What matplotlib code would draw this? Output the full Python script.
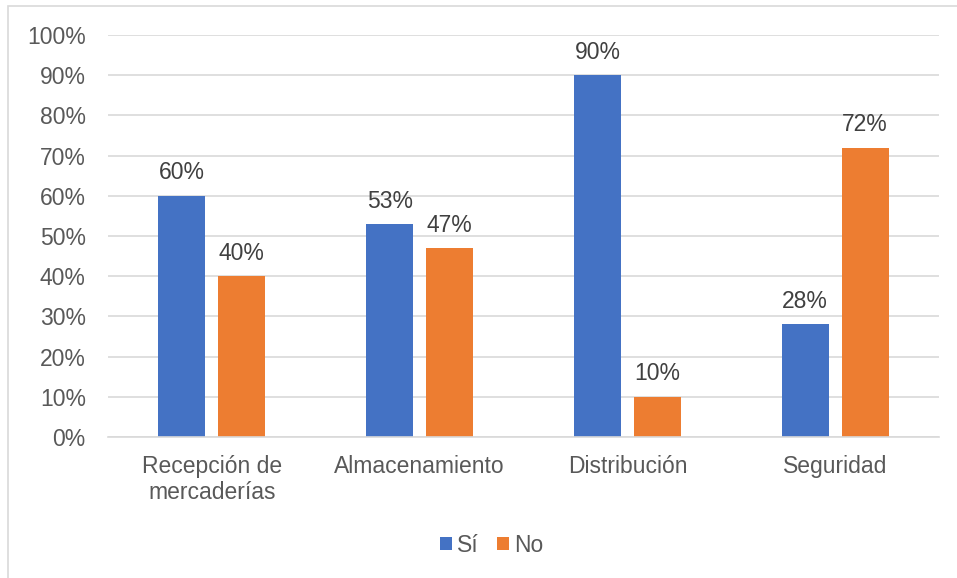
import numpy as np
import matplotlib

matplotlib.use("Agg")

import matplotlib.pyplot as plt
from matplotlib.patches import Rectangle

plt.rcParams["font.family"] = ["Liberation Sans", "DejaVu Sans"]

categories = ["Recepción de\nmercaderías", "Almacenamiento", "Distribución", "Seguridad"]
si_values = [60, 53, 90, 28]
no_values = [40, 47, 10, 72]
series_names = ["Sí", "No"]

BLUE = "#4472C4"
ORANGE = "#ED7D31"
TEXT = "#595959"
LABEL = "#404040"
GRID = "#D9D9D9"
FS = 16.5

W, H = 957, 578
fig = plt.figure(figsize=(W / 100, H / 100), dpi=100)

# thin frame around the whole chart
fig.patches.append(
    Rectangle((8 / W, -0.05), 1.1, 1.05 - 6 / H, transform=fig.transFigure,
              fill=False, edgecolor=GRID, linewidth=1.2)
)

ax = fig.add_axes([108 / W, 1 - 437 / H, (939 - 108) / W, (437 - 35) / H])

x = np.arange(len(categories))
width = 0.226
offset = 0.144

bars_si = ax.bar(x - offset, si_values, width, color=BLUE, label=series_names[0], zorder=2)
bars_no = ax.bar(x + offset, no_values, width, color=ORANGE, label=series_names[1], zorder=2)

for bars in (bars_si, bars_no):
    for b in bars:
        ax.annotate(f"{b.get_height():.0f}%",
                    (b.get_x() + b.get_width() / 2, b.get_height()),
                    xytext=(0, 16.5), textcoords="offset points",
                    ha="center", va="center", fontsize=FS, color=LABEL)

ax.set_xlim(-0.5, len(categories) - 0.5)
ax.set_ylim(0, 100)
ax.set_yticks(np.arange(0, 101, 10))
ax.set_yticklabels([f"{v}%" for v in range(0, 101, 10)])
ax.set_xticks(x)
ax.set_xticklabels(categories, linespacing=1.15)

ax.grid(axis="y", color=GRID, linewidth=1.2, zorder=0)
ax.set_axisbelow(True)
for side in ("top", "right", "left"):
    ax.spines[side].set_visible(False)
ax.spines["bottom"].set_color(GRID)
ax.spines["bottom"].set_linewidth(1.2)

ax.tick_params(axis="y", length=0, pad=16, labelsize=FS, labelcolor=TEXT)
ax.tick_params(axis="x", length=0, pad=13, labelsize=FS, labelcolor=TEXT)

fig.legend(loc="center", bbox_to_anchor=(492 / W, 1 - 545 / H), ncol=2,
           frameon=False, fontsize=FS, labelcolor=TEXT, handlelength=0.5,
           handleheight=0.5, handletextpad=0.25, columnspacing=0.8)

fig.savefig("out.png", dpi=100)
